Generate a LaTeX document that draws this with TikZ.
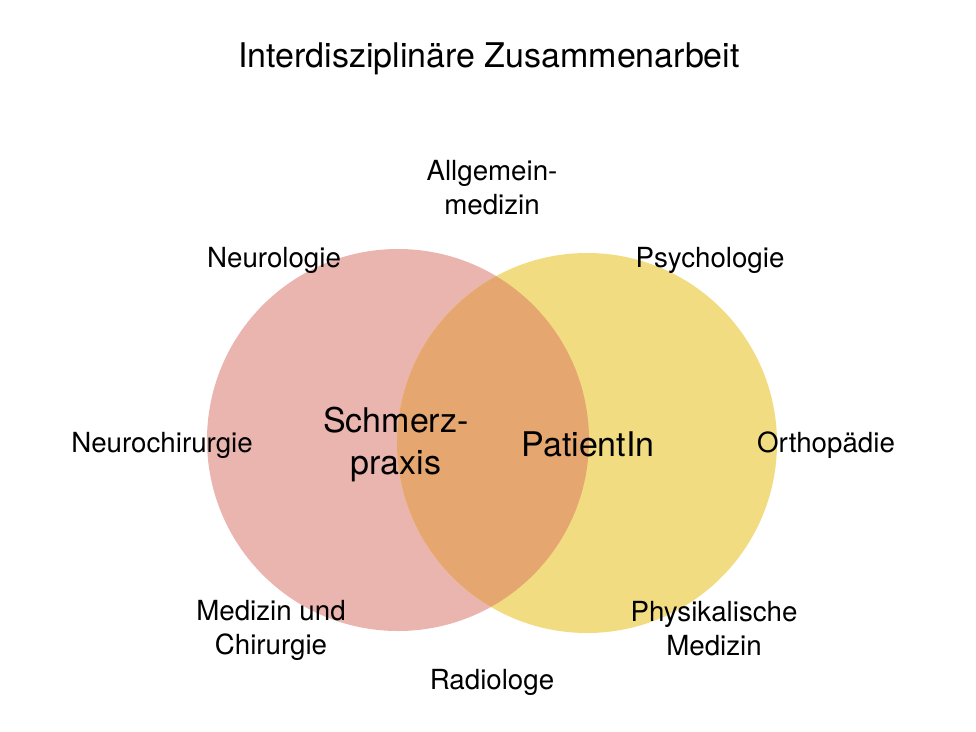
\documentclass[tikz,border=0pt]{standalone}
\usepackage{fontspec}
\setmainfont{TeX Gyre Heros}
\definecolor{praxispink}{HTML}{EAB4AF}
\definecolor{patientyellow}{HTML}{F2DC82}
\definecolor{overlaporange}{HTML}{E5A670}
\begin{document}
\begin{tikzpicture}[x=1pt, y=-1pt,
    lbl/.style={align=center, inner sep=0pt, font=\fontsize{27.7}{34}\selectfont},
    mid/.style={align=center, inner sep=0pt, font=\fontsize{34}{42}\selectfont}
]
\useasboundingbox (0,0) rectangle (976,731);
\coordinate (praxis) at (398,440);
\coordinate (patient) at (587,443);
% the two circles and their overlap
\fill[praxispink] (praxis) circle (191pt);
\fill[patientyellow] (patient) circle (190pt);
\begin{scope}
    \clip (praxis) circle (191pt);
    \fill[overlaporange] (patient) circle (190pt);
\end{scope}
\node[mid] (title) at (489,59) {Interdisziplinäre Zusammenarbeit};
\node[mid] (schmerz) at (396,444) {Schmerz-\\praxis};
\node[mid] (patientin) at (588,444) {PatientIn};
% disciplines around
\node[lbl] (allg) at (492,188) {Allgemein-\\medizin};
\node[lbl] (neuro) at (274,260) {Neurologie};
\node[lbl] (psych) at (710,260) {Psychologie};
\node[lbl] (nchir) at (162,445) {Neurochirurgie};
\node[lbl] (ortho) at (826,445) {Orthopädie};
\node[lbl] (medchir) at (271,630) {Medizin und\\Chirurgie};
\node[lbl] (physmed) at (714,629) {Physikalische\\Medizin};
\node[lbl] (radio) at (492,682) {Radiologe};
\end{tikzpicture}
\end{document}
